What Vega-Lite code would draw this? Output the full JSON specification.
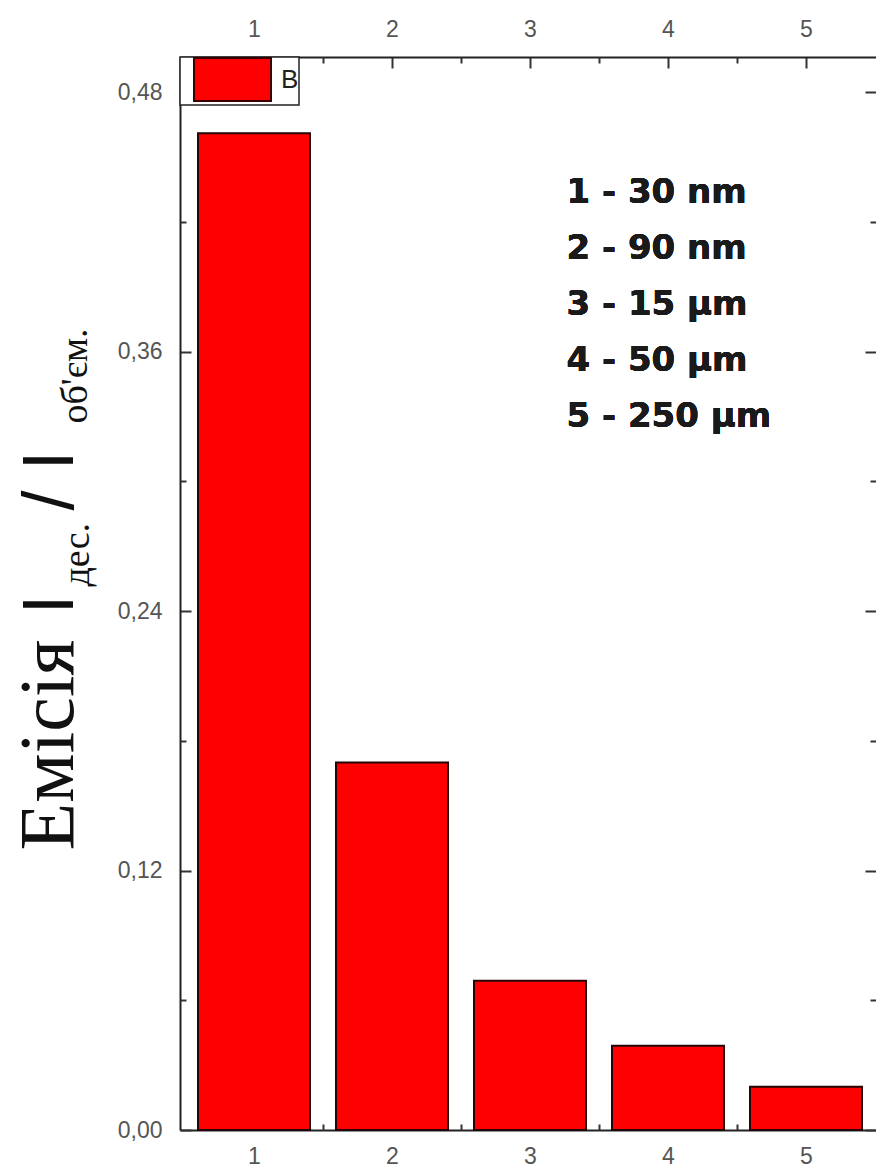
{
  "$schema": "https://vega.github.io/schema/vega-lite/v6.json",
  "autosize": {"type": "none"},
  "padding": {"left": 180, "top": 57, "right": 0, "bottom": 41},
  "width": 696,
  "height": 1073,
  "background": "white",
  "config": {
    "view": {"stroke": null},
    "axis": {
      "grid": false,
      "labelFont": "Liberation Sans",
      "labelFontSize": 23,
      "labelColor": "#555555",
      "labelFlush": false,
      "labelOverlap": false,
      "domainColor": "#222222",
      "domainWidth": 2,
      "tickColor": "#333333",
      "tickWidth": 2,
      "titleColor": "#111111",
      "titleFontWeight": "normal",
      "titleAngle": 270,
      "titleAlign": "left",
      "titleBaseline": "alphabetic"
    }
  },
  "data": {
    "values": [
      {"sample": 1, "value": 0.461, "series": "B"},
      {"sample": 2, "value": 0.170, "series": "B"},
      {"sample": 3, "value": 0.069, "series": "B"},
      {"sample": 4, "value": 0.039, "series": "B"},
      {"sample": 5, "value": 0.020, "series": "B"}
    ]
  },
  "layer": [
    {
      "mark": {"type": "bar", "width": 112, "stroke": "#240606", "strokeWidth": 2},
      "encoding": {
        "x": {
          "field": "sample", "type": "quantitative",
          "scale": {"domain": [0.5, 5.471], "nice": false, "zero": false},
          "axis": {"orient": "bottom", "values": [1, 2, 3, 4, 5], "format": "d", "tickSize": -11, "labelPadding": 26, "title": null}
        },
        "y": {
          "field": "value", "type": "quantitative",
          "scale": {"domain": [0, 0.4963], "nice": false},
          "axis": {
            "orient": "left", "values": [0, 0.12, 0.24, 0.36, 0.48], "tickSize": -11, "labelPadding": 29,
            "labelExpr": "replace(format(datum.value, '.2f'), '.', ',')",
            "title": "Емісія", "titleFont": "Liberation Serif", "titleFontSize": 78,
            "titleX": -108, "titleY": 793
          }
        },
        "color": {
          "field": "series", "type": "nominal",
          "scale": {"range": ["#ff0000"]},
          "legend": {
            "title": null, "orient": "none", "legendX": 0, "legendY": 0,
            "padding": 0,
            "symbolType": "M-1.79,-1H1.79V1H-1.79Z", "symbolSize": 1849,
            "symbolStrokeColor": "#3a0000", "symbolStrokeWidth": 2,
            "symbolOffset": 30, "labelOffset": 26,
            "labelFont": "Liberation Sans", "labelFontSize": 26, "labelColor": "#222222",
            "labelExpr": "datum.label + '\u2003'",
            "strokeColor": "#222222", "fillColor": "white",
            "encode": {"legend": {"update": {"strokeWidth": {"value": 1.5}}}}
          }
        }
      }
    },
    {
      "mark": {"type": "point", "opacity": 0},
      "encoding": {
        "x": {
          "field": "sample", "type": "quantitative",
          "scale": {"domain": [0.5, 5.471], "nice": false, "zero": false},
          "axis": {"orient": "top", "values": [1, 2, 3, 4, 5], "format": "d", "tickSize": -11, "labelPadding": 27, "title": null}
        },
        "y": {
          "field": "value", "type": "quantitative",
          "scale": {"domain": [0, 0.4963], "nice": false},
          "axis": {
            "orient": "right", "values": [0, 0.12, 0.24, 0.36, 0.48], "tickSize": -11, "labels": false, "domain": false,
            "title": "дес.", "titleFont": "Liberation Serif", "titleFontSize": 38,
            "titleX": -788, "titleY": 529
          }
        }
      }
    },
    {
      "mark": {"type": "point", "opacity": 0},
      "encoding": {
        "x": {
          "field": "sample", "type": "quantitative",
          "scale": {"domain": [0.5, 5.471], "nice": false, "zero": false},
          "axis": {
            "orient": "bottom", "values": [1.5, 2.5, 3.5, 4.5], "tickSize": -6, "labels": false, "domain": false,
            "title": "/ I", "titleFont": "Liberation Sans", "titleFontSize": 72,
            "titleX": -108, "titleY": -620
          }
        },
        "y": {
          "field": "value", "type": "quantitative",
          "scale": {"domain": [0, 0.4963], "nice": false},
          "axis": {
            "orient": "left", "values": [0.06, 0.18, 0.30, 0.42], "tickSize": -6, "labels": false, "domain": false,
            "title": "I", "titleFont": "Liberation Sans", "titleFontSize": 72,
            "titleX": -108, "titleY": 557
          }
        }
      }
    },
    {
      "mark": {"type": "point", "opacity": 0},
      "encoding": {
        "x": {
          "field": "sample", "type": "quantitative",
          "scale": {"domain": [0.5, 5.471], "nice": false, "zero": false},
          "axis": {"orient": "top", "values": [1.5, 2.5, 3.5, 4.5], "tickSize": -6, "labels": false, "domain": false, "title": null}
        },
        "y": {
          "field": "value", "type": "quantitative",
          "scale": {"domain": [0, 0.4963], "nice": false},
          "axis": {
            "orient": "right", "values": [0.06, 0.18, 0.30, 0.42], "tickSize": -6, "labels": false, "domain": false,
            "title": "об'єм.", "titleFont": "Liberation Serif", "titleFontSize": 38,
            "titleX": -790, "titleY": 366
          }
        }
      }
    },
    {
      "mark": {
        "type": "text", "align": "left", "baseline": "alphabetic",
        "font": "DejaVu Sans", "fontWeight": "bold", "fontSize": 34, "lineHeight": 56, "color": "#1a1a1a"
      },
      "encoding": {
        "x": {"datum": 3.264, "type": "quantitative", "scale": {"domain": [0.5, 5.471], "nice": false, "zero": false}, "axis": null},
        "y": {"datum": 0.4288, "type": "quantitative", "scale": {"domain": [0, 0.4963], "nice": false}, "axis": null},
        "text": {"value": ["1 - 30 nm", "2 - 90 nm", "3 - 15 µm", "4 - 50 µm", "5 - 250 µm"]}
      }
    }
  ],
  "resolve": {"axis": {"x": "independent", "y": "independent"}}
}
